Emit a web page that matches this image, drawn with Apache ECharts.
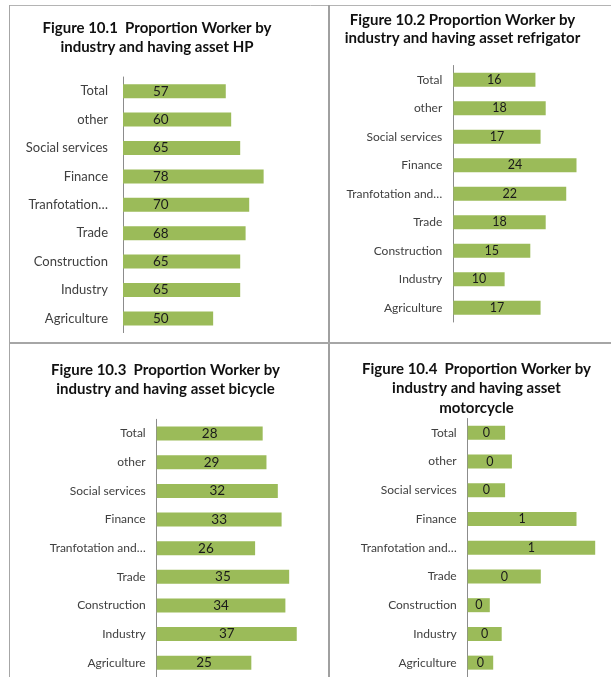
<!DOCTYPE html>
<html>
<head>
<meta charset="utf-8">
<script src="https://cdn.jsdelivr.net/npm/echarts@6/dist/echarts.min.js"></script>
<style>
  html, body { margin: 0; padding: 0; background: #ffffff; }
  #chart { width: 611px; height: 677px; }
</style>
</head>
<body>
<div id="chart"></div>
<script>
// Industry categories, top to bottom
const categories = ['Total', 'other', 'Social services', 'Finance', 'Tranfotation and communication', 'Trade', 'Construction', 'Industry', 'Agriculture'];

// Tick labels as shown on each panel (long name truncated)
const tickLabelsHP = ['Total', 'other', 'Social services', 'Finance', 'Tranfotation…', 'Trade', 'Construction', 'Industry', 'Agriculture'];
const tickLabelsOther = ['Total', 'other', 'Social services', 'Finance', 'Tranfotation and…', 'Trade', 'Construction', 'Industry', 'Agriculture'];

// Proportion of workers having each asset (%)
const valuesHP = [57, 60, 65, 78, 70, 68, 65, 65, 50];
const valuesRefrigerator = [16, 18, 17, 24, 22, 18, 15, 10, 17];
const valuesBicycle = [28, 29, 32, 33, 26, 35, 34, 37, 25];
const valuesMotorcycle = [0.22, 0.26, 0.22, 0.64, 0.75, 0.43, 0.13, 0.20, 0.15];

const titles = [
  'Figure 10.1  Proportion Worker by\nindustry and having asset HP',
  'Figure 10.2 Proportion Worker by\nindustry and having asset refrigator',
  'Figure 10.3  Proportion Worker by\nindustry and having asset bicycle',
  'Figure 10.4  Proportion Worker by\nindustry and having asset\nmotorcycle'
];

const FONT = 'Lato, "Open Sans", sans-serif';
const GREEN = '#9BBB59';

const grids = [
  { left: 123, top: 77, width: 180.3, height: 255.6 },
  { left: 453.3, top: 65.5, width: 154, height: 256.5 },
  { left: 156.7, top: 419.3, width: 151.4, height: 260.6 },
  { left: 467.7, top: 418.5, width: 136, height: 260 }
];
const xMax = [100, 30, 40, 0.8];
const seriesValues = [valuesHP, valuesRefrigerator, valuesBicycle, valuesMotorcycle];
const tickSets = [tickLabelsHP, tickLabelsOther, tickLabelsOther, tickLabelsOther];
const catFont = [13, 12, 12, 12];
const valFont = [13.5, 12.5, 13.5, 12.5];

const option = {
  backgroundColor: '#ffffff',
  animation: false,
  grid: grids.map(g => Object.assign({ containLabel: false }, g)),
  xAxis: grids.map((g, i) => ({
    type: 'value', gridIndex: i, min: 0, max: xMax[i], show: false
  })),
  yAxis: grids.map((g, i) => ({
    type: 'category', gridIndex: i, inverse: true, data: categories,
    axisLine: { show: true, lineStyle: { color: '#8c8c8c', width: 1 } },
    axisTick: { show: false },
    axisLabel: {
      margin: i === 0 ? 15 : 11,
      color: '#404040',
      fontFamily: FONT,
      fontSize: catFont[i],
      formatter: (v, idx) => tickSets[i][idx]
    }
  })),
  series: seriesValues.map((vals, i) => ({
    type: 'bar', xAxisIndex: i, yAxisIndex: i, data: vals,
    barWidth: 14,
    itemStyle: { color: GREEN },
    label: {
      show: true,
      position: i === 0 ? 'insideLeft' : 'inside',
      distance: 30,
      color: '#1a1a1a',
      fontFamily: FONT,
      fontSize: valFont[i],
      formatter: p => String(Math.round(p.value))
    }
  })),
  graphic: [
    // panel frame lines
    { type: 'line', shape: { x1: 10, y1: 5.5, x2: 611, y2: 5.5 }, style: { stroke: '#b4b4b4', lineWidth: 1 } },
    { type: 'line', shape: { x1: 9.5, y1: 5, x2: 9.5, y2: 677 }, style: { stroke: '#a6a6a6', lineWidth: 1 } },
    { type: 'line', shape: { x1: 329, y1: 5, x2: 329, y2: 677 }, style: { stroke: '#a0a0a0', lineWidth: 2 } },
    { type: 'line', shape: { x1: 10, y1: 343, x2: 611, y2: 343 }, style: { stroke: '#a6a6a6', lineWidth: 2 } },
    // panel titles
    { type: 'text', x: 157, y: 19, style: { text: titles[0], align: 'center', verticalAlign: 'top', font: 'bold 15px ' + FONT, lineHeight: 19, fill: '#111' } },
    { type: 'text', x: 462.5, y: 11, style: { text: titles[1], align: 'center', verticalAlign: 'top', font: 'bold 15px ' + FONT, lineHeight: 18, fill: '#111' } },
    { type: 'text', x: 165.5, y: 361, style: { text: titles[2], align: 'center', verticalAlign: 'top', font: 'bold 15px ' + FONT, lineHeight: 18.5, fill: '#111' } },
    { type: 'text', x: 476.5, y: 359, style: { text: titles[3], align: 'center', verticalAlign: 'top', font: 'bold 15px ' + FONT, lineHeight: 19.5, fill: '#111' } }
  ]
};

const chart = echarts.init(document.getElementById('chart'), null, { renderer: 'canvas' });
chart.setOption(option);
</script>
</body>
</html>
